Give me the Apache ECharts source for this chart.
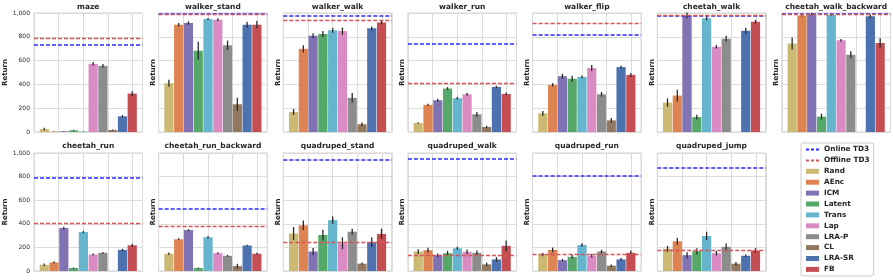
<!DOCTYPE html>
<html><head><meta charset="utf-8">
<script src="https://cdn.jsdelivr.net/npm/echarts@6/dist/echarts.min.js"></script>
<style>html,body{margin:0;padding:0;background:#fff}#c{width:893px;height:280px}</style>
</head><body><div id="c"></div>
<script>
const methods = ['Rand','AEnc','ICM','Latent','Trans','Lap','LRA-P','CL','LRA-SR','FB'];
const colors = ['#ccb974','#dd8452','#8172b3','#55a868','#64b5cd','#da8bc3','#8c8c8c','#937860','#4c72b0','#c44e52'];
const tasks = ['maze','walker_stand','walker_walk','walker_run','walker_flip','cheetah_walk','cheetah_walk_backward',
  'cheetah_run','cheetah_run_backward','quadruped_stand','quadruped_walk','quadruped_run','quadruped_jump'];
const yTicks = [0,200,400,600,800,1000];

// mean returns per task (order = methods)
const maze                  = [25, 3, 5, 14, 3, 573, 556, 17, 132, 323];
const walker_stand          = [410, 902, 916, 683, 949, 944, 728, 233, 902, 902];
const walker_walk           = [168, 699, 809, 823, 854, 848, 287, 65, 871, 921];
const walker_run            = [76, 228, 267, 365, 284, 317, 149, 42, 379, 320];
const walker_flip           = [157, 396, 469, 447, 463, 537, 317, 98, 545, 480];
const cheetah_walk          = [247, 306, 980, 126, 955, 716, 784, null, 851, 927];
const cheetah_walk_backward = [744, 980, 992, 129, 986, 770, 649, null, 972, 747];
const cheetah_run           = [53, 73, 364, 25, 330, 140, 154, null, 179, 218];
const cheetah_run_backward  = [146, 269, 347, 25, 286, 151, 129, 42, 216, 146];
const quadruped_stand       = [317, 387, 165, 305, 431, 235, 333, 62, 244, 314];
const quadruped_walk        = [165, 176, 134, 151, 193, 162, 154, 56, 98, 213];
const quadruped_run         = [140, 179, 92, 120, 221, 129, 165, 45, 98, 154];
const quadruped_jump        = [188, 252, 134, 168, 297, 151, 204, 62, 129, 174];

// error bar half-widths
const maze_err                  = [10, 2, 2, 5, 2, 15, 15, 5, 10, 20];
const walker_stand_err          = [30, 15, 15, 75, 8, 12, 40, 55, 25, 30];
const walker_walk_err           = [25, 30, 20, 25, 20, 30, 40, 15, 15, 15];
const walker_run_err            = [5, 10, 12, 12, 10, 12, 20, 10, 10, 12];
const walker_flip_err           = [20, 15, 20, 25, 12, 25, 20, 20, 12, 15];
const cheetah_walk_err          = [35, 50, 25, 20, 15, 15, 25, 0, 25, 15];
const cheetah_walk_backward_err = [50, 10, 10, 25, 10, 12, 30, 0, 15, 40];
const cheetah_run_err           = [10, 10, 12, 5, 10, 8, 8, 0, 10, 12];
const cheetah_run_backward_err  = [10, 8, 8, 5, 10, 8, 8, 20, 6, 8];
const quadruped_stand_err       = [55, 40, 30, 45, 30, 50, 25, 10, 40, 45];
const quadruped_walk_err        = [20, 20, 15, 20, 12, 20, 20, 15, 20, 45];
const quadruped_run_err         = [15, 20, 10, 15, 15, 15, 15, 10, 12, 20];
const quadruped_jump_err        = [25, 30, 25, 25, 35, 20, 30, 15, 10, 20];

const onlineTD3  = [736, 990, 978, 744, 817, 978, 997, 787, 529, 947, 950, 807, 874];
const offlineTD3 = [784, 988, 938, 413, 913, 983, 992, 406, 378, 244, 134, 143, 174];

const values = [maze, walker_stand, walker_walk, walker_run, walker_flip, cheetah_walk, cheetah_walk_backward,
  cheetah_run, cheetah_run_backward, quadruped_stand, quadruped_walk, quadruped_run, quadruped_jump];
const errors = [maze_err, walker_stand_err, walker_walk_err, walker_run_err, walker_flip_err, cheetah_walk_err,
  cheetah_walk_backward_err, cheetah_run_err, cheetah_run_backward_err, quadruped_stand_err, quadruped_walk_err,
  quadruped_run_err, quadruped_jump_err];

const FONT = '"DejaVu Sans", sans-serif';
const ONLINE_COLOR = '#2b2bff';
const OFFLINE_COLOR = '#d6555a';
const grid = [], xAxis = [], yAxis = [], series = [], graphic = [];
const W = 108.5, STEP = 124.65;

tasks.forEach((t, k) => {
  const row = k < 7 ? 0 : 1, col = k < 7 ? k : k - 7;
  const left = 34 + col * STEP, top = row ? 153 : 13, h = row ? 118 : 119;
  grid.push({left, top, width: W, height: h, show: true, borderColor: '#d0d0d0', borderWidth: 1, backgroundColor: '#fff'});
  // bar axis
  xAxis.push({gridIndex: k, type: 'value', min: -1.05, max: 10.05, show: false, splitLine: {show: false}});
  // gridline axis
  xAxis.push({gridIndex: k, type: 'value', min: 0, max: 4.4, interval: 1, position: 'top',
    axisLine: {show: false}, axisTick: {show: false}, axisLabel: {show: false},
    splitLine: {show: true, lineStyle: {color: '#dcdcdc', width: 1}}});
  yAxis.push({gridIndex: k, type: 'value', min: 0, max: 1000, interval: 200,
    axisLine: {show: false}, axisTick: {show: false},
    axisLabel: {show: col === 0, fontSize: 6, color: '#262626', fontFamily: FONT, margin: 4},
    splitLine: {show: true, lineStyle: {color: '#dcdcdc', width: 1}},
    name: 'Return', nameLocation: 'middle', nameRotate: 90, nameGap: col === 0 ? 21 : 2,
    nameTextStyle: {fontSize: 7, fontWeight: 'bold', color: '#262626', fontFamily: FONT}});
  const xi = 2 * k;
  const vals = values[k], errs = errors[k];
  series.push({
    type: 'bar', xAxisIndex: xi, yAxisIndex: k, barWidth: 9.2, z: 2, animation: false, silent: true,
    data: vals.map((v, i) => v == null ? null : {value: [i, v], itemStyle: {color: colors[i]}}).filter(d => d)
  });
  series.push({
    type: 'custom', xAxisIndex: xi, yAxisIndex: k, z: 4, animation: false, silent: true,
    data: vals.map((v, i) => v == null ? null : [i, v - errs[i], v + errs[i]]).filter(d => d),
    renderItem: (params, api) => {
      const a = api.coord([api.value(0), api.value(1)]);
      const b = api.coord([api.value(0), api.value(2)]);
      return {type: 'line', shape: {x1: a[0], y1: a[1], x2: b[0], y2: b[1]},
        style: {stroke: '#2a2a2a', lineWidth: 1.3}};
    }
  });
  series.push({
    type: 'line', xAxisIndex: xi, yAxisIndex: k, data: [], z: 6, animation: false, silent: true,
    markLine: {silent: true, symbol: ['none', 'none'], label: {show: false}, animation: false,
      data: [
        {yAxis: onlineTD3[k], lineStyle: {color: ONLINE_COLOR, width: 1.5, type: [4, 2]}},
        {yAxis: offlineTD3[k], lineStyle: {color: OFFLINE_COLOR, width: 1.3, type: [4, 2]}}
      ]}
  });
  graphic.push({type: 'text', x: left + W / 2, y: row ? 146.5 : 7,
    style: {text: t, textAlign: 'center', textVerticalAlign: 'middle',
      font: 'bold 7.5px ' + FONT, fill: '#262626'}});
});

// hidden grid for legend entries
grid.push({left: -200, top: -200, width: 10, height: 10, show: false});
const hg = tasks.length;
xAxis.push({gridIndex: hg, type: 'value', show: false});
yAxis.push({gridIndex: hg, type: 'value', show: false});
const hx = xAxis.length - 1, hy = yAxis.length - 1;
series.push({type: 'line', name: 'Online TD3', xAxisIndex: hx, yAxisIndex: hy, data: [], symbol: 'none',
  itemStyle: {color: ONLINE_COLOR, opacity: 0}, lineStyle: {color: ONLINE_COLOR, width: 1.5, type: [3, 2], opacity: 1}});
series.push({type: 'line', name: 'Offline TD3', xAxisIndex: hx, yAxisIndex: hy, data: [], symbol: 'none',
  itemStyle: {color: OFFLINE_COLOR, opacity: 0}, lineStyle: {color: OFFLINE_COLOR, width: 1.3, type: [3, 2], opacity: 1}});
methods.forEach((m, i) => {
  series.push({type: 'bar', name: m, xAxisIndex: hx, yAxisIndex: hy, data: [], itemStyle: {color: colors[i]}});
});

const option = {
  backgroundColor: '#fff',
  animation: false,
  grid, xAxis, yAxis, series, graphic,
  legend: {
    orient: 'vertical', left: 801, top: 143,
    data: [{name: 'Online TD3'}, {name: 'Offline TD3'}].concat(methods.map(m => ({name: m, icon: 'rect'}))),
    itemWidth: 13, itemHeight: 5, itemGap: 1.9,
    padding: [2, 4, 2, 4],
    borderColor: '#cccccc', borderWidth: 1, borderRadius: 2, backgroundColor: '#fff',
    textStyle: {fontSize: 7.3, fontWeight: 'bold', color: '#262626', fontFamily: FONT, lineHeight: 9},
    selectedMode: false
  }
};
const chart = echarts.init(document.getElementById('c'), null, {renderer: 'canvas'});
chart.setOption(option);
</script></body></html>
